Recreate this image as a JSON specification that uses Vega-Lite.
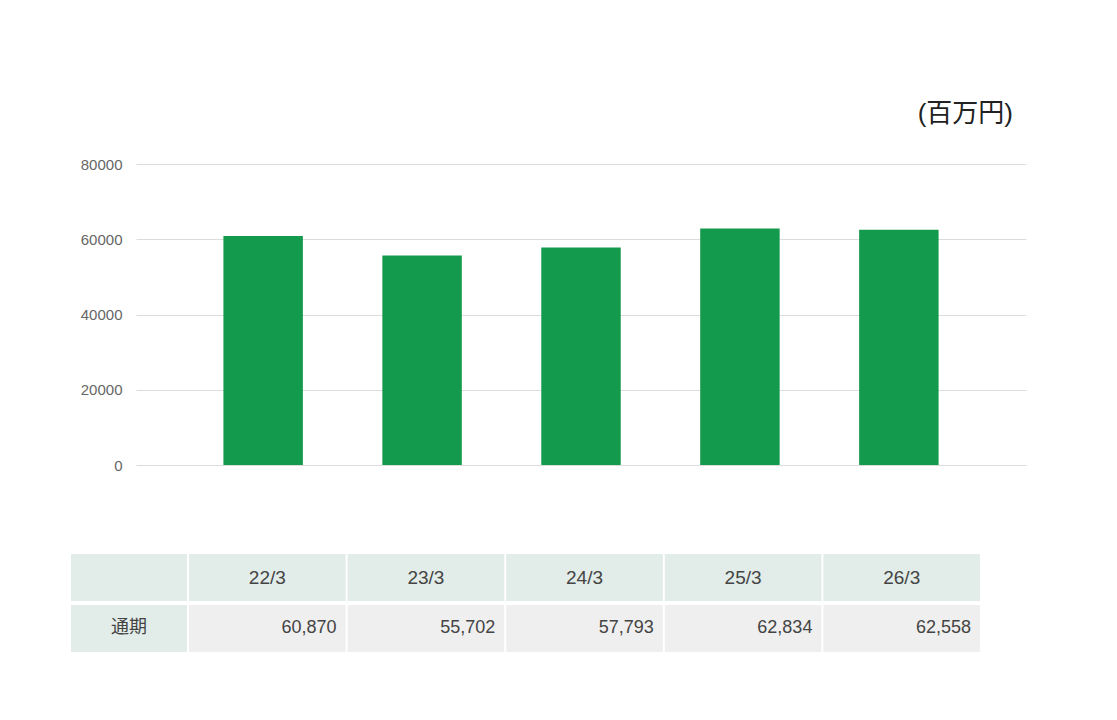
{
  "$schema": "https://vega.github.io/schema/vega-lite/v6.json",
  "padding": {"left": 71, "top": 101, "right": 5, "bottom": 5},
  "background": "white",
  "config": {"view": {"stroke": null}, "font": "Liberation Sans, Noto Sans CJK JP"},
  "datasets": {
    "sales": [
      {"year": "22/3", "value": 60870},
      {"year": "23/3", "value": 55702},
      {"year": "24/3", "value": 57793},
      {"year": "25/3", "value": 62834},
      {"year": "26/3", "value": 62558}
    ],
    "rows": [{"label": "通期", "first": "22/3"}]
  },
  "data": {"name": "sales"},
  "spacing": 81,
  "vconcat": [
    {
      "width": 890,
      "height": 301,
      "title": {"text": "(百万円)", "anchor": "end", "frame": "group", "fontSize": 26, "fontWeight": "normal", "color": "#222", "offset": 30, "dx": -13},
      "mark": {"type": "bar", "color": "#149a4c"},
      "encoding": {
        "x": {"field": "year", "type": "nominal", "sort": null, "axis": null, "scale": {"paddingInner": 0.5, "paddingOuter": 0.55}},
        "y": {"field": "value", "type": "quantitative", "scale": {"domain": [0, 80000]},
          "axis": {"values": [0, 20000, 40000, 60000, 80000], "format": "d", "title": null, "domain": false, "ticks": false, "labelPadding": 14, "labelFontSize": 15, "labelColor": "#666", "gridColor": "#dcdcdc"}}
      }
    },
    {
      "width": 844,
      "height": 98,
      "layer": [
        {
          "mark": {"type": "rect", "color": "#e2ece8"},
          "encoding": {
            "x": {"field": "year", "type": "nominal", "sort": null, "axis": null, "scale": {"paddingInner": 0.0126, "paddingOuter": 0.1671, "align": 1}},
            "y": {"datum": "年度", "type": "nominal", "scale": {"domain": ["年度", "通期"], "paddingInner": 0.078, "paddingOuter": 0}, "axis": null}
          }
        },
        {
          "mark": {"type": "rect", "color": "#efefef"},
          "encoding": {
            "x": {"field": "year", "type": "nominal", "sort": null},
            "y": {"datum": "通期", "type": "nominal"}
          }
        },
        {
          "mark": {"type": "text", "fontSize": 19, "color": "#444"},
          "encoding": {
            "x": {"field": "year", "type": "nominal", "sort": null},
            "y": {"datum": "年度", "type": "nominal"},
            "text": {"field": "year"}
          }
        },
        {
          "mark": {"type": "text", "fontSize": 18, "color": "#444", "align": "right", "dx": -9},
          "encoding": {
            "x": {"field": "year", "type": "nominal", "sort": null, "bandPosition": 1},
            "y": {"datum": "通期", "type": "nominal"},
            "text": {"field": "value", "format": ","}
          }
        },
        {
          "data": {"name": "rows"},
          "mark": {"type": "rect", "color": "#e2ece8"},
          "encoding": {
            "x": {"field": "first", "type": "nominal", "bandPosition": -0.7535},
            "x2": {"field": "first", "bandPosition": -0.0128},
            "y": {"datum": "年度", "type": "nominal"}
          }
        },
        {
          "data": {"name": "rows"},
          "mark": {"type": "rect", "color": "#e2ece8"},
          "encoding": {
            "x": {"field": "first", "type": "nominal", "bandPosition": -0.7535},
            "x2": {"field": "first", "bandPosition": -0.0128},
            "y": {"field": "label", "type": "nominal"}
          }
        },
        {
          "data": {"name": "rows"},
          "mark": {"type": "text", "fontSize": 18, "color": "#444"},
          "encoding": {
            "x": {"field": "first", "type": "nominal", "bandPosition": -0.383},
            "y": {"field": "label", "type": "nominal"},
            "text": {"field": "label"}
          }
        }
      ]
    }
  ]
}
